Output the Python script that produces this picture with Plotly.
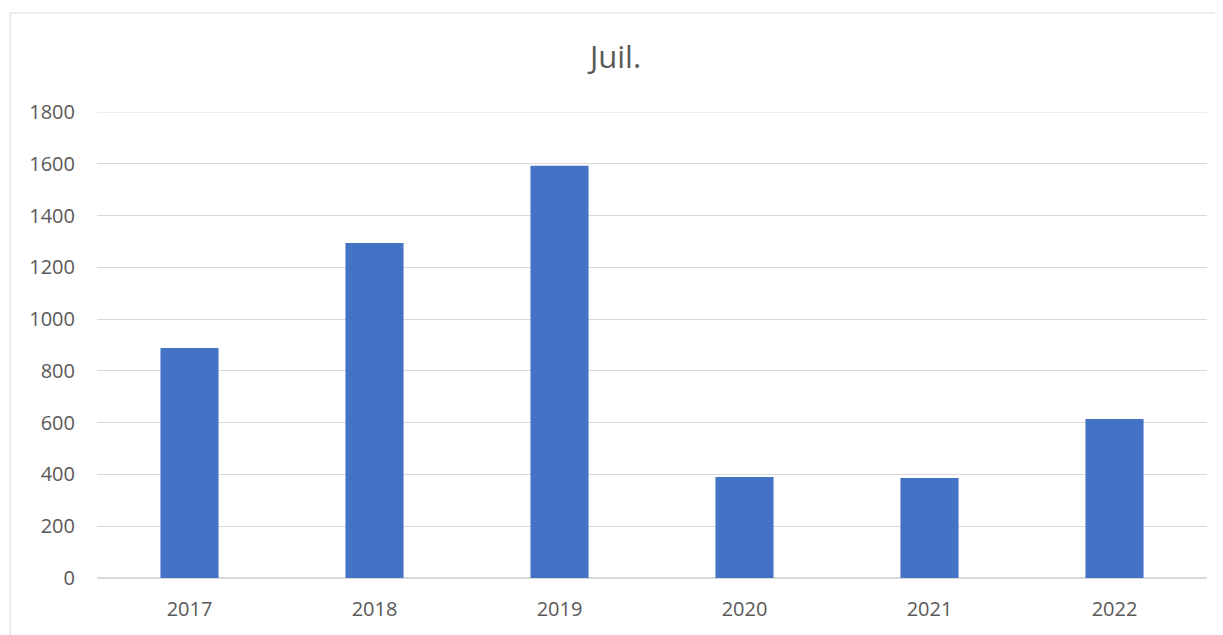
import plotly.graph_objects as go

years = ["2017", "2018", "2019", "2020", "2021", "2022"]
values = [888, 1294, 1592, 390, 386, 614]
y_ticks = [0, 200, 400, 600, 800, 1000, 1200, 1400, 1600, 1800]

# page body has an 8px offset; build the figure to compensate
OFF = 8
W, H = 1223 - OFF, 635 - OFF
L, R, T, B = 97 - OFF, 16, 112 - OFF, 57
pw, ph = W - L - R, H - T - B

fig = go.Figure(go.Bar(x=years, y=values, marker=dict(color="#4472C4", line=dict(width=0))))

font_color = "#595959"
grid_color = "#d9d9d9"
fig.update_layout(
    width=W, height=H,
    margin=dict(l=L, r=R, t=T, b=B),
    paper_bgcolor="white", plot_bgcolor="white",
    bargap=0.686,
    font=dict(family="Open Sans, Liberation Sans, sans-serif", size=20, color=font_color),
    title=dict(text="Juil.", x=0.5, xanchor="center", y=1 - (57 - OFF) / H, yanchor="middle",
               font=dict(size=31, color=font_color)),
    showlegend=False,
    xaxis=dict(showgrid=False, showline=True, linecolor=grid_color, linewidth=1,
               ticks="", ticklabelstandoff=13, tickfont=dict(size=20, color=font_color)),
    yaxis=dict(range=[0, y_ticks[-1]], tickvals=y_ticks, showgrid=True, gridcolor=grid_color,
               gridwidth=1, zeroline=True, zerolinecolor=grid_color, showline=False,
               ticks="", ticklabelstandoff=21, tickfont=dict(size=20, color=font_color)),
    shapes=[
        dict(type="rect", xref="paper", yref="paper",
             x0=(10 - OFF - L) / pw, x1=(W + 10 - L) / pw,
             y0=(H - B - (H + 10)) / ph, y1=(H - B - (13 - OFF)) / ph,
             line=dict(color=grid_color, width=1), fillcolor="rgba(0,0,0,0)", layer="below"),
        dict(type="line", xref="paper", yref="y", x0=0, x1=1, y0=y_ticks[-1], y1=y_ticks[-1],
             line=dict(color=grid_color, width=1), layer="below"),
    ],
)

fig.write_html("out.html")
